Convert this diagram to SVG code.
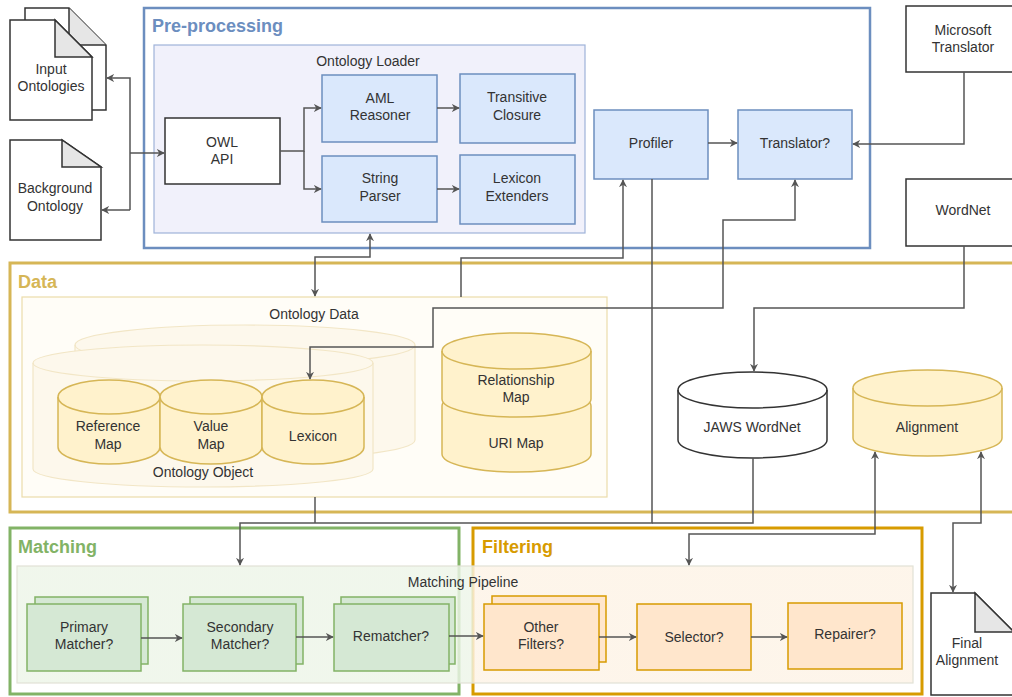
<svg xmlns="http://www.w3.org/2000/svg" width="1012" height="697" viewBox="0 0 1012 697">
<style>
.t{font-family:"Liberation Sans",Arial,sans-serif;font-size:14px;fill:#333;text-anchor:middle}
.ttl{font-family:"Liberation Sans",Arial,sans-serif;font-size:18px;font-weight:bold}
.blue{fill:#dae8fc;stroke:#6c8ebf;stroke-width:1.5}
.yel{fill:#fff2cc;stroke:#d6b656;stroke-width:1.5}
.grn{fill:#d5e8d4;stroke:#82b366;stroke-width:1.5}
.org{fill:#ffe6cc;stroke:#d79b00;stroke-width:1.5}
.wht{fill:#fff;stroke:#333;stroke-width:1.5}
.fold{fill:#e6e6e6;stroke:#333;stroke-width:1.5}
.edge{fill:none;stroke:#555;stroke-width:1.5}
</style>
<defs>
<marker id="ah" viewBox="0 0 10 10" refX="9" refY="5" markerWidth="8" markerHeight="8" markerUnits="userSpaceOnUse" orient="auto-start-reverse">
<path d="M0,0 L10,5 L0,10 L3,5 Z" fill="#555"/>
</marker>
<linearGradient id="pipe" gradientUnits="userSpaceOnUse" x1="17" y1="0" x2="913" y2="0">
<stop offset="0" stop-color="#edf5e8"/>
<stop offset="0.509" stop-color="#edf5e8"/>
<stop offset="0.509" stop-color="#fdf3e6"/>
<stop offset="1" stop-color="#fdf3e6"/>
</linearGradient>
</defs>
<rect width="1012" height="697" fill="#fff"/>

<!-- Containers -->
<g id="preprocessing">
<rect x="144" y="8" width="726" height="240" fill="#fff" stroke="#6c8ebf" stroke-width="2.5"/>
<text x="152" y="32" class="ttl" fill="#6c8ebf">Pre-processing</text>
</g>
<g id="ontology-loader">
<rect x="154" y="45" width="431" height="188" fill="#f1f1fb" stroke="#9fb3d9" stroke-width="1.2"/>
<text x="368" y="66" class="t">Ontology Loader</text>
</g>
<g id="data">
<rect x="10" y="263" width="1012" height="249" fill="#fff" stroke="#d6b656" stroke-width="3"/>
<text x="18" y="288" class="ttl" fill="#d6b656">Data</text>
</g>
<g id="ontology-data">
<rect x="22" y="297" width="585" height="200" fill="#fffdf7" stroke="#ecdcaa" stroke-width="1.2"/>
<text x="314" y="319" class="t">Ontology Data</text>
</g>
<g id="matching">
<rect x="10" y="528" width="449" height="166" fill="#fff" stroke="#82b366" stroke-width="3"/>
<text x="18" y="553" class="ttl" fill="#82b366">Matching</text>
</g>
<g id="filtering">
<rect x="473" y="528" width="449" height="166" fill="#fff" stroke="#d79b00" stroke-width="3"/>
<text x="482" y="553" class="ttl" fill="#d79b00">Filtering</text>
</g>
<g id="matching-pipeline">
<rect x="17" y="566" width="896" height="117" fill="url(#pipe)" fill-opacity="0.82" stroke="#e2e2d6" stroke-width="1.2"/>
<text x="463" y="587" class="t">Matching Pipeline</text>
</g>

<!-- Documents -->
<g id="input-ontologies">
<path d="M25,8 H69 L106,45 V110 H25 Z" class="wht"/>
<path d="M69,8 V45 H106" class="fold"/>
<path d="M10,20 H55 L92,57 V120 H10 Z" class="wht"/>
<path d="M55,20 V57 H92 Z" class="fold"/>
<text x="51" y="74" class="t">Input</text>
<text x="51" y="91" class="t">Ontologies</text>
</g>
<g id="background-ontology">
<path d="M10,140 H62 L101,167 V240 H10 Z" class="wht"/>
<path d="M62,140 V167 H101 Z" class="fold"/>
<text x="55" y="193" class="t">Background</text>
<text x="55" y="211" class="t">Ontology</text>
</g>
<g id="final-alignment">
<path d="M931,593 H975 L1014,632 V695 H931 Z" class="wht"/>
<path d="M975,593 V632 H1014 Z" class="fold"/>
<text x="967" y="648" class="t">Final</text>
<text x="967" y="665" class="t">Alignment</text>
</g>

<!-- Pre-processing nodes -->
<g id="owl-api">
<rect x="165" y="118" width="115" height="66" class="wht"/>
<text x="222" y="147" class="t">OWL</text>
<text x="222" y="164" class="t">API</text>
</g>
<g id="aml-reasoner">
<rect x="322" y="75" width="115" height="67" class="blue"/>
<text x="380" y="103" class="t">AML</text>
<text x="380" y="120" class="t">Reasoner</text>
</g>
<g id="transitive-closure">
<rect x="460" y="74" width="115" height="69" class="blue"/>
<text x="517" y="102" class="t">Transitive</text>
<text x="517" y="120" class="t">Closure</text>
</g>
<g id="string-parser">
<rect x="322" y="156" width="115" height="66" class="blue"/>
<text x="380" y="183" class="t">String</text>
<text x="380" y="201" class="t">Parser</text>
</g>
<g id="lexicon-extenders">
<rect x="460" y="155" width="115" height="69" class="blue"/>
<text x="517" y="183" class="t">Lexicon</text>
<text x="517" y="201" class="t">Extenders</text>
</g>
<g id="profiler">
<rect x="594" y="110" width="114" height="69" class="blue"/>
<text x="651" y="148" class="t">Profiler</text>
</g>
<g id="translator">
<rect x="738" y="110" width="114" height="69" class="blue"/>
<text x="795" y="148" class="t">Translator?</text>
</g>
<g id="microsoft-translator">
<rect x="906" y="6" width="110" height="66" class="wht"/>
<text x="963" y="35" class="t">Microsoft</text>
<text x="963" y="52" class="t">Translator</text>
</g>
<g id="wordnet">
<rect x="906" y="179" width="110" height="67" class="wht"/>
<text x="963" y="215" class="t">WordNet</text>
</g>

<!-- Data nodes -->
<g id="ontology-object">
<path d="M75,345 A170,20 0 0 1 415,345 V440 A170,20 0 0 1 75,440 Z" fill="#fdf8ec" stroke="#f2e6c6" stroke-width="1.2"/>
<path d="M75,345 A170,20 0 0 0 415,345" fill="none" stroke="#f2e6c6" stroke-width="1.2"/>
<path d="M33,363 A170,18 0 0 1 373,363 V469 A170,18 0 0 1 33,469 Z" fill="#fdf8ec" stroke="#f2e6c6" stroke-width="1.2"/>
<path d="M33,363 A170,18 0 0 0 373,363" fill="none" stroke="#f2e6c6" stroke-width="1.2"/>
<text x="203" y="477" class="t">Ontology Object</text>
</g>
<g id="reference-map">
<path d="M58,397 A51,17 0 0 1 160,397 V447 A51,17 0 0 1 58,447 Z" class="yel"/>
<path d="M58,397 A51,17 0 0 0 160,397" fill="none" stroke="#d6b656" stroke-width="1.5"/>
<text x="108" y="431" class="t">Reference</text>
<text x="108" y="449" class="t">Map</text>
</g>
<g id="value-map">
<path d="M160,397 A51,17 0 0 1 262,397 V447 A51,17 0 0 1 160,447 Z" class="yel"/>
<path d="M160,397 A51,17 0 0 0 262,397" fill="none" stroke="#d6b656" stroke-width="1.5"/>
<text x="211" y="431" class="t">Value</text>
<text x="211" y="449" class="t">Map</text>
</g>
<g id="lexicon">
<path d="M262,397 A51,17 0 0 1 364,397 V447 A51,17 0 0 1 262,447 Z" class="yel"/>
<path d="M262,397 A51,17 0 0 0 364,397" fill="none" stroke="#d6b656" stroke-width="1.5"/>
<text x="313" y="441" class="t">Lexicon</text>
</g>
<g id="uri-map">
<path d="M442,406 A74.5,18 0 0 1 591,406 V454 A74.5,18 0 0 1 442,454 Z" class="yel"/>
<text x="516" y="448" class="t">URI Map</text>
</g>
<g id="relationship-map">
<path d="M442,351 A74.5,18 0 0 1 591,351 V399 A74.5,18 0 0 1 442,399 Z" class="yel"/>
<path d="M442,351 A74.5,18 0 0 0 591,351" fill="none" stroke="#d6b656" stroke-width="1.5"/>
<text x="516" y="385" class="t">Relationship</text>
<text x="516" y="402" class="t">Map</text>
</g>
<g id="jaws-wordnet">
<path d="M678,390 A74.5,18 0 0 1 827,390 V440 A74.5,18 0 0 1 678,440 Z" class="wht"/>
<path d="M678,390 A74.5,18 0 0 0 827,390" fill="none" stroke="#333" stroke-width="1.5"/>
<text x="752" y="432" class="t">JAWS WordNet</text>
</g>
<g id="alignment">
<path d="M853,388 A74.5,18 0 0 1 1002,388 V438 A74.5,18 0 0 1 853,438 Z" class="yel"/>
<path d="M853,388 A74.5,18 0 0 0 1002,388" fill="none" stroke="#d6b656" stroke-width="1.5"/>
<text x="927" y="432" class="t">Alignment</text>
</g>

<!-- Pipeline nodes -->
<g id="primary-matcher">
<rect x="35" y="597" width="113" height="67" class="grn"/>
<rect x="27" y="604" width="114" height="67" class="grn"/>
<text x="84" y="632" class="t">Primary</text>
<text x="84" y="649" class="t">Matcher?</text>
</g>
<g id="secondary-matcher">
<rect x="190" y="597" width="113" height="67" class="grn"/>
<rect x="183" y="604" width="113" height="67" class="grn"/>
<text x="240" y="632" class="t">Secondary</text>
<text x="240" y="649" class="t">Matcher?</text>
</g>
<g id="rematcher">
<rect x="341" y="597" width="114" height="67" class="grn"/>
<rect x="334" y="604" width="115" height="67" class="grn"/>
<text x="391" y="641" class="t">Rematcher?</text>
</g>
<g id="other-filters">
<rect x="492" y="596" width="114" height="66" class="org"/>
<rect x="484" y="604" width="115" height="66" class="org"/>
<text x="541" y="632" class="t">Other</text>
<text x="541" y="649" class="t">Filters?</text>
</g>
<g id="selector">
<rect x="637" y="604" width="114" height="66" class="org"/>
<text x="694" y="642" class="t">Selector?</text>
</g>
<g id="repairer">
<rect x="788" y="603" width="114" height="66" class="org"/>
<text x="845" y="639" class="t">Repairer?</text>
</g>

<!-- Connectors -->
<g id="connectors">
<path d="M130,153 H164" class="edge" marker-end="url(#ah)"/>
<path d="M130,210 V78 H107" class="edge" marker-end="url(#ah)"/>
<path d="M130,210 H102" class="edge" marker-end="url(#ah)"/>
<path d="M280,151 H304 V108 H321" class="edge" marker-end="url(#ah)"/>
<path d="M304,151 V189 H321" class="edge" marker-end="url(#ah)"/>
<path d="M437,108 H459" class="edge" marker-end="url(#ah)"/>
<path d="M437,189 H459" class="edge" marker-end="url(#ah)"/>
<path d="M708,143 H737" class="edge" marker-end="url(#ah)"/>
<path d="M964,72 V144 H853" class="edge" marker-end="url(#ah)"/>
<path d="M370,234 V257 H315 V296" class="edge" marker-start="url(#ah)" marker-end="url(#ah)"/>
<path d="M461,297 V258 H623 V180" class="edge" marker-end="url(#ah)"/>
<path d="M795,180 V220 H723 V308 H433 V347 H310 V379" class="edge" marker-start="url(#ah)" marker-end="url(#ah)"/>
<path d="M964,246 V308 H754 V371" class="edge" marker-end="url(#ah)"/>
<path d="M652,179 V523 H240 V565" class="edge" marker-end="url(#ah)"/>
<path d="M315,497 V523" class="edge"/>
<path d="M753,458 V523 H652" class="edge"/>
<path d="M875,452 V534 H689 V565" class="edge" marker-start="url(#ah)" marker-end="url(#ah)"/>
<path d="M981,452 V523 H953 V592" class="edge" marker-start="url(#ah)" marker-end="url(#ah)"/>
<path d="M141,638 H182" class="edge" marker-end="url(#ah)"/>
<path d="M296,637 H333" class="edge" marker-end="url(#ah)"/>
<path d="M449,636 H483" class="edge" marker-end="url(#ah)"/>
<path d="M599,637 H636" class="edge" marker-end="url(#ah)"/>
<path d="M751,637 H787" class="edge" marker-end="url(#ah)"/>
</g>
</svg>
